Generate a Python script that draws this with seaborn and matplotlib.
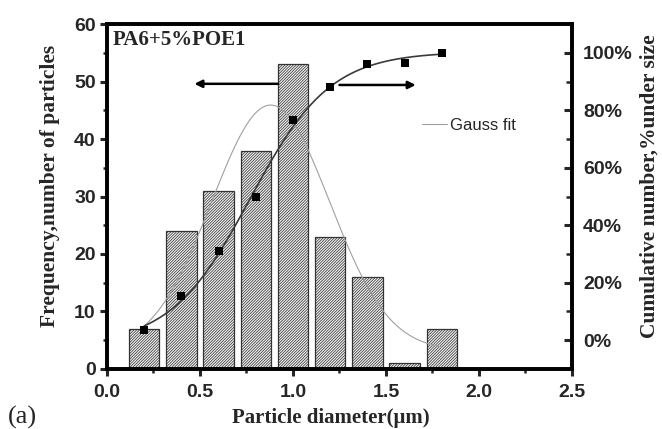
import numpy as np
import pandas as pd
import matplotlib
matplotlib.use("Agg")
import matplotlib.pyplot as plt
from matplotlib.ticker import MultipleLocator, FuncFormatter
import seaborn as sns

# Particle size distribution of PA6 + 5% POE1
diameter = [0.2, 0.4, 0.6, 0.8, 1.0, 1.2, 1.4, 1.6, 1.8]
frequency = [7, 24, 31, 38, 53, 23, 16, 1, 7]
cumulative = [3.5, 15.5, 31.0, 50.0, 76.5, 88.0, 96.0, 96.5, 100.0]

# Gaussian fit parameters (offset, amplitude, centre, sigma)
gauss_offset = 3.2
gauss_amp = 42.7
gauss_center = 0.88
gauss_sigma = 0.317

x_ticks = [0.0, 0.5, 1.0, 1.5, 2.0, 2.5]
left_ticks = [0, 10, 20, 30, 40, 50, 60]
right_ticks = [0, 20, 40, 60, 80, 100]

serif = "Liberation Serif"
sans = "Liberation Sans"

sns.set_theme(style="ticks")
plt.rcParams["font.family"] = [sans, "DejaVu Sans"]
plt.rcParams["hatch.linewidth"] = 0.55
plt.rcParams["hatch.color"] = "#505050"

fig = plt.figure(figsize=(6.62, 4.29), dpi=100)
ax = fig.add_axes([0.1616, 0.1399, 0.7024, 0.8041])
ax2 = ax.twinx()

df = pd.DataFrame({"d": diameter, "n": frequency, "c": cumulative})

# Histogram bars with dense diagonal hatching
sns.barplot(data=df, x="d", y="n", native_scale=True, width=0.82,
            color="white", edgecolor="#333333", linewidth=0.9,
            ax=ax, zorder=2)
for p in ax.patches:
    p.set_facecolor("#f6f6f6")
    p.set_hatch("/" * 12)

# Gauss fit curve
xg = np.linspace(diameter[0], diameter[-1], 200)
yg = gauss_offset + gauss_amp * np.exp(-((xg - gauss_center) ** 2) / (2 * gauss_sigma ** 2))
sns.lineplot(x=xg, y=yg, ax=ax, color="#a0a0a0", linewidth=0.8,
             label="Gauss fit", zorder=3)


def boltzmann_fit(xs, ys):
    """Least-squares sigmoid y = A2 + (A1 - A2) / (1 + exp((x - x0) / dx))."""
    xs = np.asarray(xs, float)
    ys = np.asarray(ys, float)
    best = None
    for x0 in np.linspace(0.5, 1.2, 141):
        for dx in np.linspace(0.08, 0.5, 85):
            s = 1.0 / (1.0 + np.exp((xs - x0) / dx))
            M = np.column_stack([s, 1 - s])
            coef, *_ = np.linalg.lstsq(M, ys, rcond=None)
            err = np.sum((M @ coef - ys) ** 2)
            if best is None or err < best[0]:
                best = (err, x0, dx, coef)
    _, x0, dx, (a1, a2) = best
    return lambda x: a2 + (a1 - a2) / (1.0 + np.exp((x - x0) / dx))


# Cumulative distribution on the right axis
cum_curve = boltzmann_fit(diameter, cumulative)
xc = np.linspace(diameter[0], diameter[-1], 300)
sns.lineplot(x=xc, y=cum_curve(xc), ax=ax2, color="#3a3a3a", linewidth=1.2, zorder=3)
sns.scatterplot(data=df, x="d", y="c", ax=ax2, marker="s", s=32,
                color="black", edgecolor="black", linewidth=0, zorder=4)

# Axis limits and ticks
ax.set_xlim(0, 2.5)
ax.set_ylim(0, 60)
ax2.set_ylim(-10, 110)
ax.set_xticks(x_ticks)
ax.set_yticks(left_ticks)
ax2.set_yticks(right_ticks)
ax.xaxis.set_minor_locator(MultipleLocator(0.25))
ax.yaxis.set_minor_locator(MultipleLocator(5))
ax2.yaxis.set_minor_locator(MultipleLocator(10))
ax.xaxis.set_major_formatter(FuncFormatter(lambda v, p: f"{v:.1f}"))
ax2.yaxis.set_major_formatter(FuncFormatter(lambda v, p: f"{v:.0f}%"))

for lab in ax.get_xticklabels() + ax.get_yticklabels() + ax2.get_yticklabels():
    lab.set_fontsize(14)
    lab.set_fontweight("bold")
    lab.set_family(sans)

ax.tick_params(axis="y", which="major", direction="out", length=5, width=2.2, pad=3)
ax.tick_params(axis="x", which="major", direction="out", length=5, width=2.2, pad=6)
ax.tick_params(axis="both", which="minor", direction="out", length=3, width=1.8)
ax2.tick_params(axis="y", which="major", direction="in", length=6, width=2.2, pad=8)
ax2.tick_params(axis="y", which="minor", direction="in", length=4, width=1.8)

for a in (ax, ax2):
    for s in a.spines.values():
        s.set_linewidth(2.6)
        s.set_color("black")
        s.set_visible(True)

ax.set_xlabel("Particle diameter(\u03bcm)", fontsize=15, fontweight="bold",
              family=[serif, "DejaVu Serif"])
ax.set_ylabel("Frequency,number of particles", fontsize=15.5, fontweight="bold",
              family=serif)
ax2.set_ylabel("Cumulative number,%under size", fontsize=15.5, fontweight="bold",
               family=serif)
ax.xaxis.set_label_coords(0.482, -0.112)
ax.yaxis.set_label_coords(-0.101, 0.53)
ax2.yaxis.set_label_coords(1.146, 0.53)

# Direction arrows pointing to the relevant axis
ax.annotate("", xy=(0.47, 49.6), xytext=(0.92, 49.6),
            arrowprops=dict(arrowstyle="-|>", color="black", lw=1.8,
                            mutation_scale=11, shrinkA=0, shrinkB=0), zorder=5)
ax.annotate("", xy=(1.66, 49.4), xytext=(1.25, 49.4),
            arrowprops=dict(arrowstyle="-|>", color="black", lw=1.8,
                            mutation_scale=11, shrinkA=0, shrinkB=0), zorder=5)

ax.text(0.03, 57.3, "PA6+5%POE1", fontsize=15, fontweight="bold",
        family=serif, ha="left", va="center")

leg = ax.legend(loc="center left", bbox_to_anchor=(0.645, 0.705), frameon=False,
                handlelength=1.5, handletextpad=0.2,
                prop={"family": sans, "size": 12})

fig.text(0.012, 0.028, "(a)", fontsize=19, family=serif, ha="left", va="center")

fig.savefig("out.png", dpi=100)
